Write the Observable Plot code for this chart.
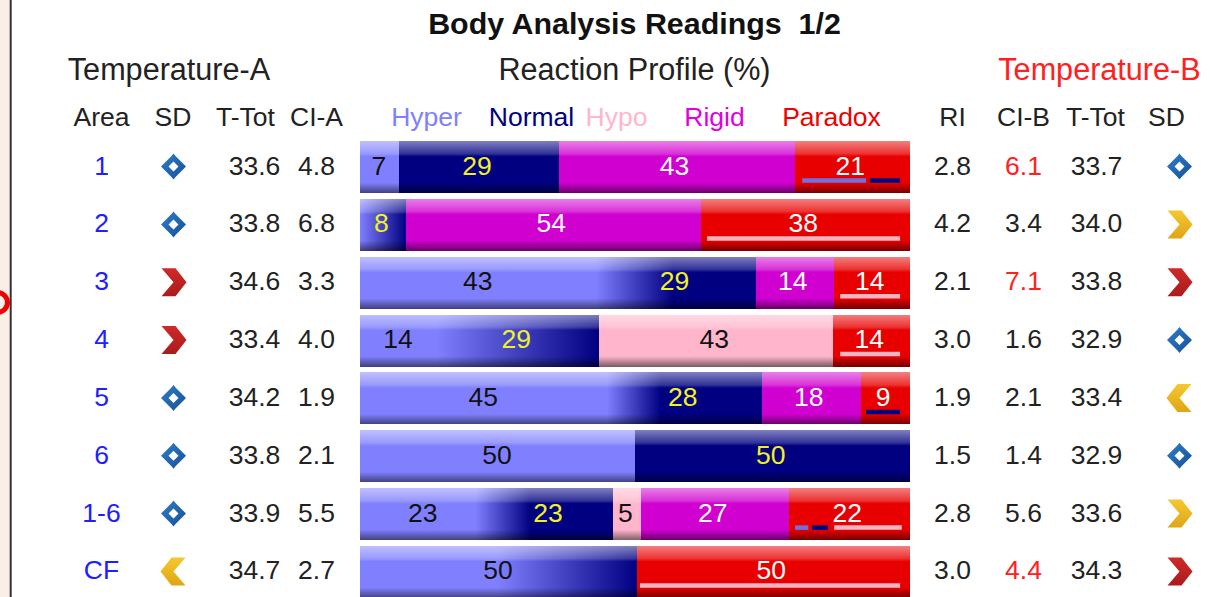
<!DOCTYPE html>
<html>
<head>
<meta charset="utf-8">
<script src="https://cdn.jsdelivr.net/npm/d3@7"></script>
<script src="https://cdn.jsdelivr.net/npm/@observablehq/plot@0.6"></script>
<style>
html,body{margin:0;padding:0;background:#fff;overflow:hidden}
svg{display:block}
</style>
</head>
<body>
<div id="chart"></div>
<script>
// ---- data ----
const areas   = ["1","2","3","4","5","6","1-6","CF"];
const sdA     = ["diamond","diamond","red","red","diamond","diamond","diamond","yellowLeft"];
const totA    = ["33.6","33.8","34.6","33.4","34.2","33.8","33.9","34.7"];
const ciA     = ["4.8","6.8","3.3","4.0","1.9","2.1","5.5","2.7"];
const hyper   = [7.1,0,43,14,45,50,23,50.4];
const normal  = [29,8.4,29,29.4,28,50,23,0];
const hypo    = [0,0,0,42.6,0,0,5.1,0];
const rigid   = [43,53.6,14.2,0,18,0,26.9,0];
const paradox = [20.9,38,13.8,14,9,0,22,49.6];
const ri      = ["2.8","4.2","2.1","3.0","1.9","1.5","2.8","3.0"];
const ciB     = ["6.1","3.4","7.1","1.6","2.1","1.4","5.6","4.4"];
const ciBHigh = ["6.1","7.1","4.4"];
const totB    = ["33.7","34.0","33.8","32.9","33.4","32.9","33.6","34.3"];
const sdB     = ["diamond","yellow","red","diamond","yellowLeft","diamond","yellow","red"];
const seriesNames = ["Hyper","Normal","Hypo","Rigid","Paradox"];
const seriesValues = [hyper,normal,hypo,rigid,paradox];
// hyper-to-normal colour blends: area, start %, end %
const blends = [["2",0,8.4],["3",42.9,57],["4",13.9,43.4],["5",44.9,54.7],["1-6",21,31],["CF",25,50.4]];
// small breakdown strips inside the Paradox segment: area, kind, start %, end %
const strips = [
  ["1","hyper",80.4,92],["1","normal",92.7,98.2],
  ["2","pink",63.1,98.2],["3","pink",87.3,98.2],["4","pink",87.3,98.2],
  ["5","normal",92,98.2],
  ["1-6","hyper",79.1,81.5],["1-6","normal",82.2,85.1],["1-6","pink",86.2,98.5],
  ["CF","pink",50.9,98.2]
];

// ---- styles and layout ----
const FONT = "Liberation Sans, Arial, sans-serif";
const fills = {Hyper:"#8080ff",Normal:"#000080",Hypo:"#ffb6cc",Rigid:"#d000d0",Paradox:"#e80000"};
const labelFills = {Hyper:"#111",Normal:"#f2f21e",Hypo:"#111",Rigid:"#fff",Paradox:"#fff"};
const labelShift = {Hyper:0.2,Normal:0.4,Hypo:0.4,Rigid:0.5,Paradox:0.5};
const legendFills = {Hyper:"#8080ff",Normal:"#000080",Hypo:"#ffb6cc",Rigid:"#e000e0",Paradox:"#f00000"};
const legendX = {Hyper:426,Normal:531,Hypo:616,Rigid:714,Paradox:831};
const stripFills = {hyper:"#7070e0",normal:"#000080",pink:"#f4b4c0"};
const colX = {area:101,sdA:173,totA:254,ciA:316,ri:952,ciB:1023,totB:1096,sdB:1179};
const headerY = {title:24,group:69.5,col:117};
const BODY = 26.5, HEAD = 26.5, GROUP = 30.6, TITLE = 30.4;

const rows = areas.map((area,i)=>({area,i,sdA:sdA[i],totA:totA[i],ciA:ciA[i],ri:ri[i],ciB:ciB[i],totB:totB[i],sdB:sdB[i]}));
const segments = rows.flatMap(r=>{
  let acc=0;
  return seriesNames.map((name,k)=>{
    const v=seriesValues[k][r.i], s={area:r.area,name,value:v,x1:acc,x2:acc+v};
    acc+=v; return s;
  }).filter(s=>s.value>0);
});

const poly = pts => ({draw(c){pts.forEach((p,i)=>i?c.lineTo(p[0],p[1]):c.moveTo(p[0],p[1]));c.closePath();}});
const chevR = poly([[-12,-14],[2,-14],[13,0],[2,14],[-12,14],[0,0]]);
const chevL = poly([[12,-14],[-2,-14],[-13,0],[-2,14],[12,14],[0,0]]);
const ring = {draw(c){
  [[-12.5,0],[-2,-10.5],[0,-13],[2,-10.5],[12.5,0],[2,10.5],[0,13],[-2,10.5]].forEach((p,i)=>i?c.lineTo(p[0],p[1]):c.moveTo(p[0],p[1]));c.closePath();
  c.moveTo(-5,0);c.lineTo(0,5);c.lineTo(5,0);c.lineTo(0,-5);c.closePath();
}};
const icons = {diamond:[ring,"url(#gBlue)"],red:[chevR,"url(#gRed)"],yellow:[chevR,"url(#gYellow)"],yellowLeft:[chevL,"url(#gYellow)"]};

const defs = () => {
  const g = document.createElementNS("http://www.w3.org/2000/svg","g");
  g.innerHTML = `<defs>
  <linearGradient id="fade" x1="0" x2="1" y1="0" y2="0"><stop offset="0" stop-color="#8080ff"/><stop offset="1" stop-color="#000080"/></linearGradient>
  <linearGradient id="sheen" x1="0" x2="0" y1="0" y2="1">
    <stop offset="0" stop-color="#fff" stop-opacity=".5"/><stop offset=".24" stop-color="#fff" stop-opacity=".2"/>
    <stop offset=".3" stop-color="#fff" stop-opacity="0"/><stop offset=".8" stop-color="#000" stop-opacity="0"/>
    <stop offset="1" stop-color="#000" stop-opacity=".5"/></linearGradient>
  <linearGradient id="gBlue" x1="0" x2="1" y1="0" y2="1"><stop offset="0" stop-color="#2f7fc8"/><stop offset="1" stop-color="#164f98"/></linearGradient>
  <linearGradient id="gRed" x1="0" x2="0" y1="0" y2="1"><stop offset="0" stop-color="#d02a28"/><stop offset="1" stop-color="#a81c1c"/></linearGradient>
  <linearGradient id="gYellow" x1="0" x2="0" y1="0" y2="1"><stop offset="0" stop-color="#f5c830"/><stop offset="1" stop-color="#dfa515"/></linearGradient>
  </defs>`;
  return g;
};

const col = (key,dx,extra={}) => Plot.text(rows,{frameAnchor:"left",dx,dy:-1.5,y:"area",text:key,textAnchor:"middle",fontSize:BODY,fill:"#222",...extra});
const icon = (key,dx) => Object.entries(icons).map(([k,[symbol,fill]]) =>
  Plot.dot(rows.filter(r=>r[key]===k),{frameAnchor:"left",dx,dy:-1,y:"area",symbol,r:1,fill}));
const label = (text,x,y,fontSize,fill,fontWeight="normal") =>
  Plot.text([text],{frameAnchor:"top-left",dx:x,dy:y,lineAnchor:"middle",textAnchor:"middle",fontSize,fill,fontWeight});

const chart = Plot.plot({
  width:1210,height:597,margin:0,
  style:{fontFamily:FONT,background:"#fff"},
  x:{domain:[0,100],range:[360,910],axis:null},
  y:{type:"band",domain:areas,range:[141,598],round:false,paddingInner:0.1,paddingOuter:0,align:0,axis:null},
  marks:[
    defs,
    // page edge
    Plot.rectX([0],{x1:()=>-65.5,x2:()=>-63.6,fill:"#f9efe6",frameAnchor:"left"}),
    Plot.ruleX([0],{x:()=>-63.6,stroke:"#333",strokeWidth:2}),
    Plot.dot([0],{frameAnchor:"top-left",dx:-3,dy:302,r:10,stroke:"#f00000",strokeWidth:5,fill:"none"}),
    Plot.ruleY([0],{frameAnchor:"top",dy:92,x1:()=>-63.6,x2:()=>155,stroke:"#222",strokeWidth:1.5}),
    // bars
    Plot.barX(segments,{x1:"x1",x2:"x2",y:"area",fill:d=>fills[d.name],shapeRendering:"crispEdges"}),
    Plot.barX(blends,{x1:d=>d[1],x2:d=>d[2],y:d=>d[0],fill:"url(#fade)",shapeRendering:"crispEdges"}),
    Plot.barX(rows,{x1:()=>0,x2:()=>100,y:"area",fill:"url(#sheen)",shapeRendering:"crispEdges"}),
    Plot.ruleY(strips,{y:d=>d[0],x1:d=>d[2],x2:d=>d[3],dy:13,stroke:d=>stripFills[d[1]],strokeWidth:4.5}),
    Plot.text(segments,{x:d=>(d.x1+d.x2)/2-labelShift[d.name],y:"area",text:d=>String(Math.round(d.value)),fill:d=>labelFills[d.name],fontSize:BODY,dy:-1.5}),
    // table columns
    col("area",colX.area,{fill:"#2020ff"}),
    ...icon("sdA",colX.sdA),
    col("totA",colX.totA),
    col("ciA",colX.ciA),
    col("ri",colX.ri),
    col("ciB",colX.ciB,{fill:d=>ciBHigh.includes(d.ciB)?"#ff2020":"#222"}),
    col("totB",colX.totB),
    ...icon("sdB",colX.sdB),
    // headers
    label("Body Analysis Readings  1/2",634,headerY.title,TITLE,"#111","bold"),
    label("Temperature-A",168.5,headerY.group,GROUP,"#222"),
    label("Reaction Profile (%)",634,headerY.group,GROUP,"#222"),
    label("Temperature-B",1099,headerY.group,GROUP,"#ff2020"),
    label("Area",colX.area,headerY.col,HEAD,"#222"),
    label("SD",colX.sdA-0.5,headerY.col,HEAD,"#222"),
    label("T-Tot",colX.totA-9,headerY.col,HEAD,"#222"),
    label("CI-A",colX.ciA,headerY.col,HEAD,"#222"),
    ...seriesNames.map(n=>label(n,legendX[n],headerY.col,HEAD,legendFills[n])),
    label("RI",colX.ri,headerY.col,HEAD,"#222"),
    label("CI-B",colX.ciB,headerY.col,HEAD,"#222"),
    label("T-Tot",colX.totB-1,headerY.col,HEAD,"#222"),
    label("SD",colX.sdB-13,headerY.col,HEAD,"#222")
  ]
});
document.getElementById("chart").append(chart);
</script>
</body>
</html>
